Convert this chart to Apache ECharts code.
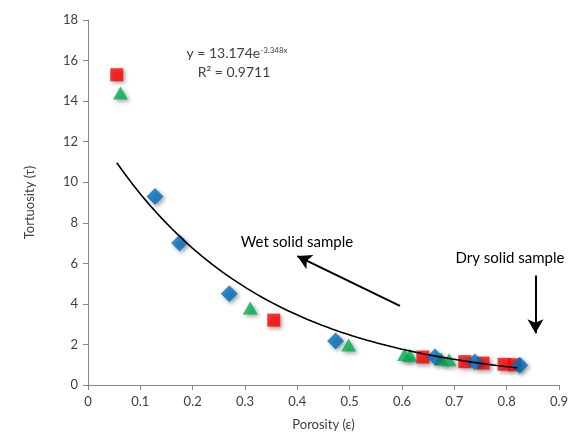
<!DOCTYPE html>
<html><head><meta charset="utf-8">
<script src="https://cdn.jsdelivr.net/npm/echarts@6/dist/echarts.min.js"></script>
<style>html,body{margin:0;padding:0;background:#fff}#c{width:576px;height:441px}</style>
</head><body><div id="c"></div>
<script>
const redSquares = [[0.055,15.3],[0.355,3.2],[0.64,1.38],[0.72,1.15],[0.755,1.08],[0.795,1.02],[0.815,1.0]];
const greenTriangles = [[0.062,14.4],[0.31,3.8],[0.498,1.97],[0.605,1.5],[0.615,1.45],[0.675,1.28],[0.69,1.25]];
const blueDiamonds = [[0.128,9.3],[0.175,7.0],[0.27,4.5],[0.473,2.17],[0.663,1.38],[0.739,1.13],[0.825,0.98]];
const fitA = 13.174, fitB = -3.348, fitFrom = 0.055, fitTo = 0.82;
const xTicks = [0,0.1,0.2,0.3,0.4,0.5,0.6,0.7,0.8,0.9];
const yTicks = [0,2,4,6,8,10,12,14,16,18];

const trend = [];
for (let i = 0; i <= 80; i++) { const x = fitFrom + (fitTo - fitFrom) * i / 80; trend.push([x, fitA * Math.exp(fitB * x)]); }

const font = 'Lato, "Open Sans", sans-serif';
const shadow = {shadowBlur:4, shadowColor:'rgba(0,0,0,0.45)', shadowOffsetX:2, shadowOffsetY:2};
const chart = echarts.init(document.getElementById('c'));
chart.setOption({
  animation:false,
  grid:{left:88,right:17,top:20,bottom:56},
  xAxis:{type:'value',min:0,max:0.9,interval:0.1,splitLine:{show:false},
    axisLine:{lineStyle:{color:'#868686'}},axisTick:{lineStyle:{color:'#868686'},length:5},
    axisLabel:{color:'#404040',fontSize:13,fontFamily:font,margin:10,formatter:v=>String(Math.round(v*10)/10)},
    name:'Porosity (ε)',nameLocation:'middle',nameGap:33,nameTextStyle:{color:'#404040',fontSize:13,fontFamily:font}},
  yAxis:{type:'value',min:0,max:18,interval:2,splitLine:{show:false},
    axisLine:{show:true,lineStyle:{color:'#868686'}},axisTick:{show:true,lineStyle:{color:'#868686'},length:5},
    axisLabel:{color:'#404040',fontSize:13,fontFamily:font,margin:10},
    name:'Tortuosity (τ)',nameLocation:'middle',nameGap:52,nameTextStyle:{color:'#404040',fontSize:13,fontFamily:font}},
  series:[
    {type:'scatter',data:greenTriangles,symbol:'triangle',symbolSize:[15,13],itemStyle:Object.assign({color:'#00B050'},shadow)},
    {type:'scatter',data:redSquares,symbol:'rect',symbolSize:13,itemStyle:Object.assign({color:'#FF0000'},shadow)},
    {type:'scatter',data:blueDiamonds,symbol:'diamond',symbolSize:[17,17],itemStyle:Object.assign({color:'#0070C0'},shadow)},
    {type:'line',data:trend,showSymbol:false,symbol:'none',smooth:false,lineStyle:{color:'#000',width:1.6},z:5,
      markLine:{symbol:['none','arrow'],symbolSize:[12,14],silent:true,label:{show:false},
        lineStyle:{color:'#000',width:2,type:'solid'},
        data:[
          [{coord:[0.596,3.9]},{coord:[0.40,6.36]}],
          [{coord:[0.855,5.4]},{coord:[0.855,2.55]}]
        ]}}
  ],
  graphic:[
    {type:'text',x:237,y:53,style:{text:'y = 13.174e{s|-3.348x}',align:'center',verticalAlign:'middle',rich:{s:{fontSize:8,verticalAlign:'top',padding:[0,0,6,0],fill:'#404040',fontFamily:font}},fill:'#404040',fontSize:14,fontFamily:font}},
    {type:'text',x:234,y:72,style:{text:'R² = 0.9711',fill:'#404040',fontSize:14,fontFamily:font,align:'center',verticalAlign:'middle'}},
    {type:'text',x:297,y:242,style:{text:'Wet solid sample',fill:'#000',fontSize:15,fontFamily:font,align:'center',verticalAlign:'middle'}},
    {type:'text',x:510,y:258,style:{text:'Dry solid sample',fill:'#000',fontSize:15,fontFamily:font,align:'center',verticalAlign:'middle'}}
  ]
});
</script></body></html>
